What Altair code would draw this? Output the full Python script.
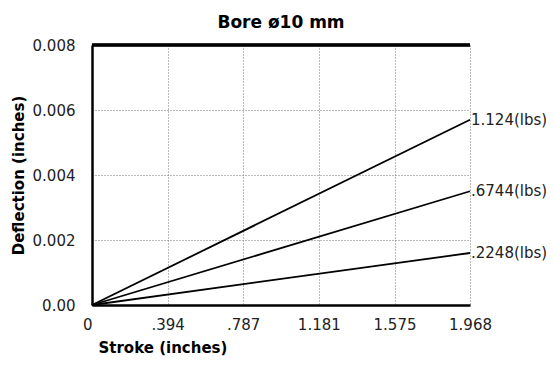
import altair as alt
import pandas as pd

loads = ["1.124(lbs)", ".6744(lbs)", ".2248(lbs)"]
stroke_start = 0.0
stroke_end = 1.968
deflection_end = [0.0057, 0.0035, 0.0016]
x_ticks = [0, 0.394, 0.787, 1.181, 1.575, 1.968]
x_labels = ["0", ".394", ".787", "1.181", "1.575", "1.968"]
y_ticks = [0, 0.002, 0.004, 0.006, 0.008]
y_labels = ["0.00", "0.002", "0.004", "0.006", "0.008"]

rows = []
for ld, d in zip(loads, deflection_end):
    rows.append({"load": ld, "stroke": stroke_start, "defl": 0.0})
    rows.append({"load": ld, "stroke": stroke_end, "defl": d})
df = pd.DataFrame(rows)
ends = pd.DataFrame({"load": loads, "stroke": [stroke_end] * 3, "defl": deflection_end})

FONT = "DejaVu Sans"
LFS = 15
xs = alt.Scale(domain=[0, 1.968], nice=False, zero=False)
ys = alt.Scale(domain=[0, 0.008], nice=False)

x_axis = alt.Axis(
    values=x_ticks,
    labelExpr=" : ".join([f"abs(datum.value-{v})<0.0001 ? '{l}'" for v, l in zip(x_ticks, x_labels)]) + " : ''",
    title="Stroke (inches)", grid=True, gridDash=[1, 2], gridColor="#777", gridWidth=1,
    ticks=False, domainColor="black", domainWidth=2.5, labelPadding=12,
    labelFontSize=LFS, labelFont=FONT, labelColor="#222", titleFont=FONT, titleFontSize=15,
    titleFontWeight="bold", titleAnchor="start", titleAlign="left", titlePadding=8,
    titleColor="black", titleX=6,
    labelAlign={"condition": {"test": "datum.value == 0", "value": "right"}, "value": "center"},
    labelFlush=False, labelOverlap=False)
y_axis = alt.Axis(
    values=y_ticks,
    labelExpr=" : ".join([f"abs(datum.value-{v})<0.00001 ? '{l}'" for v, l in zip(y_ticks, y_labels)]) + " : ''",
    title="Deflection (inches)", grid=True, gridDash=[1, 2], gridColor="#777", gridWidth=1,
    ticks=False, domainColor="black", domainWidth=2.5, labelPadding=17,
    labelFontSize=LFS, labelFont=FONT, labelColor="#222", titleFont=FONT, titleFontSize=15,
    titleFontWeight="bold", titlePadding=6, titleColor="black", labelOverlap=False)

lines = alt.Chart(df).mark_line(color="black", strokeWidth=1.8).encode(
    x=alt.X("stroke:Q", scale=xs, axis=x_axis),
    y=alt.Y("defl:Q", scale=ys, axis=y_axis),
    detail="load:N",
)
top = alt.Chart(df).mark_rule(color="black", strokeWidth=2.5).encode(
    x=alt.datum(0), x2=alt.datum(1.968), y=alt.datum(0.008)
)
labels = alt.Chart(ends).mark_text(align="left", baseline="middle", dx=1, fontSize=LFS,
                                   font=FONT, color="#222").encode(
    x=alt.X("stroke:Q", scale=xs), y=alt.Y("defl:Q", scale=ys), text="load:N"
)

chart = alt.layer(lines, top, labels).properties(
    width=378, height=260,
    title=alt.TitleParams("Bore ø10 mm", font=FONT, fontSize=17, fontWeight="bold",
                          offset=6, color="black"),
    autosize=alt.AutoSizeParams(type="none"),
    padding={"left": 84, "top": 37, "right": 76, "bottom": 54},
    background="white",
).configure_view(stroke=None)

chart.save("out.html", embed_options={"renderer": "svg", "actions": False})
